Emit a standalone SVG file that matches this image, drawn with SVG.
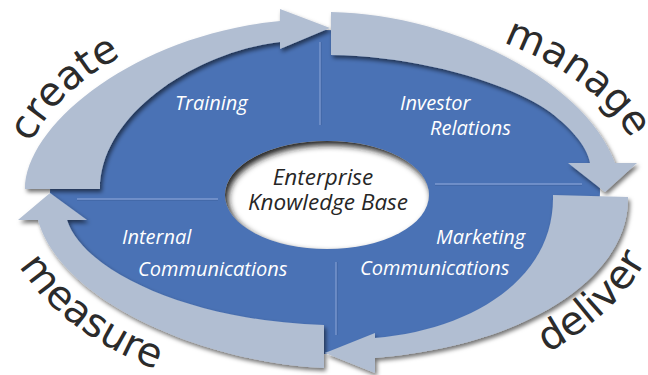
<svg xmlns="http://www.w3.org/2000/svg" width="648" height="375" viewBox="0 0 648 375">
<defs>
<filter id="sh" x="-20%" y="-20%" width="140%" height="140%">
<feDropShadow dx="2" dy="3" stdDeviation="2" flood-color="#000" flood-opacity="0.55"/>
</filter>
<filter id="blur" x="-5%" y="-5%" width="110%" height="110%">
<feGaussianBlur stdDeviation="3"/>
</filter>
<clipPath id="hole"><ellipse cx="327" cy="195" rx="102" ry="54"/></clipPath>
<path id="p-create" d="M 38.4 254.2 A 305 182 0 0 1 230.8 18.9"/>
<path id="p-manage" d="M 434.4 22.9 A 320 180 0 0 1 643.8 207.7"/>
<path id="p-deliver" d="M 506 372 A 339 213 0 0 0 647 258.5"/>
<path id="p-measure" d="M 1.2 220.8 A 327 207 0 0 0 163.5 372"/>
</defs>
<style>
.ring{fill:#4a72b5}
.arrow{fill:#b1bed2}
.lbl{font-family:"Open Sans","DejaVu Sans",sans-serif;font-style:italic;font-size:20px;fill:#ffffff}
.hubtxt{font-family:"Open Sans","DejaVu Sans",sans-serif;font-style:italic;font-size:22.5px;fill:#262626}
.word{font-family:"DejaVu Sans",sans-serif;font-size:40px;fill:#2b2b2b}
.div{stroke:#7d9ad0;stroke-width:1.3;fill:none}
.divd{stroke:#35568f;stroke-width:1;fill:none;opacity:0.6}
</style>

<g id="ring">
<ellipse class="ring" cx="325" cy="192" rx="275" ry="162"/>
<line class="divd" x1="321" y1="42" x2="321" y2="125"/>
<line class="div" x1="320" y1="42" x2="320" y2="125"/>
<line class="divd" x1="435" y1="185" x2="582" y2="185"/>
<line class="div" x1="435" y1="184" x2="582" y2="184"/>
<line class="divd" x1="77" y1="200" x2="218" y2="200"/>
<line class="div" x1="77" y1="199" x2="218" y2="199"/>
<line class="divd" x1="337" y1="262" x2="337" y2="335"/>
<line class="div" x1="336" y1="262" x2="336" y2="335"/>
</g>

<g id="connectors" filter="url(#sh)">
<path id="arrow-create" class="arrow" d="M 25 189 C 25 125 135 35 280 21 L 280 9 L 330 28 L 280 49 L 280 42 C 195 52 100 115 100 189 Z"/>
<path id="arrow-manage" class="arrow" d="M 331 12 C 450 14 585 80 615 163 L 637 163 L 605 192 L 568 163 L 590 163 C 587 145 568 125 547 110 C 510 84 420 56 331 55 Z"/>
<path id="arrow-deliver" class="arrow" d="M 553 195 L 628 197 C 630 275 530 345 375 358 L 375 373 L 325 353 L 375 333 L 375 338 C 470 330 555 280 553 195 Z"/>
<path id="arrow-measure" class="arrow" d="M 324 325 L 324 368 C 200 362 60 300 38 220 L 18 220 L 50 193 L 87 220 L 67 220 C 85 275 200 322 324 325 Z"/>
</g>

<g id="hub">
<ellipse cx="327" cy="195" rx="102" ry="54" fill="#ffffff"/>
<g clip-path="url(#hole)">
<path fill="#1e1e1e" fill-rule="evenodd" filter="url(#blur)" d="M 0 0 H 648 V 375 H 0 Z M 228 199 a 102 54 0 1 0 204 0 a 102 54 0 1 0 -204 0 Z"/>
</g>
<text class="hubtxt" x="323" y="185" text-anchor="middle">Enterprise</text>
<text class="hubtxt" x="328" y="210" text-anchor="middle">Knowledge Base</text>
</g>

<g id="training"><text class="lbl" x="175" y="110">Training</text></g>
<g id="investor-relations">
<text class="lbl" x="400" y="110">Investor</text>
<text class="lbl" x="430" y="135">Relations</text>
</g>
<g id="internal-communications">
<text class="lbl" x="122" y="244">Internal</text>
<text class="lbl" x="138" y="276">Communications</text>
</g>
<g id="marketing-communications">
<text class="lbl" x="436" y="244">Marketing</text>
<text class="lbl" x="360" y="275">Communications</text>
</g>

<g id="stage-create"><text class="word"><textPath href="#p-create" startOffset="50%" text-anchor="middle">create</textPath></text></g>
<g id="stage-manage"><text class="word"><textPath href="#p-manage" startOffset="50%" text-anchor="middle">manage</textPath></text></g>
<g id="stage-deliver"><text class="word"><textPath href="#p-deliver" startOffset="114" text-anchor="middle">deliver</textPath></text></g>
<g id="stage-measure"><text class="word"><textPath href="#p-measure" startOffset="136" text-anchor="middle">measure</textPath></text></g>
</svg>
